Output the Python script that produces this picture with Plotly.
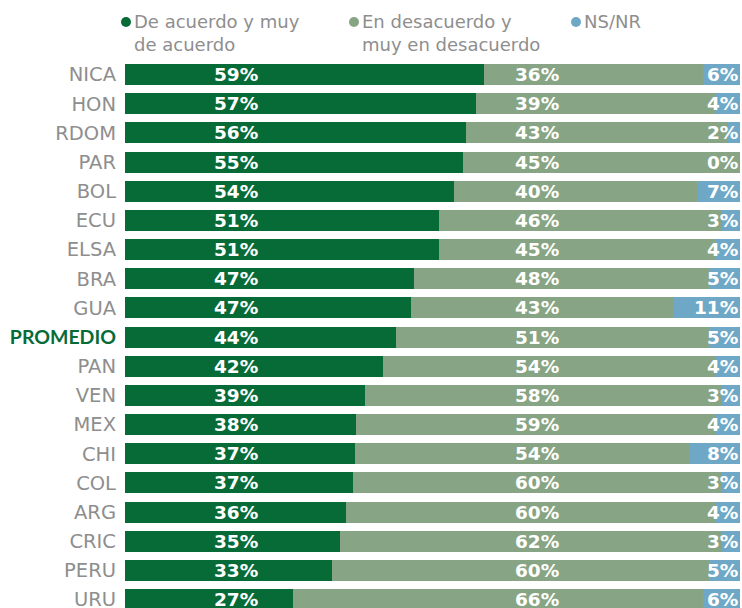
import plotly.graph_objects as go

countries = ["NICA", "HON", "RDOM", "PAR", "BOL", "ECU", "ELSA", "BRA", "GUA", "PROMEDIO",
             "PAN", "VEN", "MEX", "CHI", "COL", "ARG", "CRIC", "PERU", "URU"]
agree = [59, 57, 56, 55, 54, 51, 51, 47, 47, 44, 42, 39, 38, 37, 37, 36, 35, 33, 27]
disagree = [36, 39, 43, 45, 40, 46, 45, 48, 43, 51, 54, 58, 59, 54, 60, 60, 62, 60, 66]
nsnr = [6, 4, 2, 0, 7, 3, 4, 5, 11, 5, 4, 3, 4, 8, 3, 4, 3, 5, 6]
series_names = ["De acuerdo y muy<br>de acuerdo", "En desacuerdo y<br>muy en desacuerdo", "NS/NR"]

C_AGREE = "#076B38"
C_DIS = "#87A584"
C_NS = "#6FA8C7"
GRAY = "#8E8E8E"
FONT = "'DejaVu Sans', sans-serif"

W, H = 742, 608
L, R, T, B = 125, 2, 60, 0
PW, PH = W - L - R, H - T - B


def px(x):  # window x -> paper
    return (x - L) / PW


def py(y):  # window y -> paper
    return 1 - (y - T) / PH


ticktext = [f"<span style='font-family:Lato;font-weight:bold;font-size:19.5px;fill:{C_AGREE};color:{C_AGREE}'>{c}</span>"
            if c == "PROMEDIO" else c for c in countries]

fig = go.Figure()
for vals, col, name in zip([agree, disagree, nsnr], [C_AGREE, C_DIS, C_NS], series_names):
    fig.add_trace(go.Bar(y=countries, x=vals, orientation="h", marker=dict(color=col, line=dict(width=0)),
                         name=name, showlegend=False, hoverinfo="skip"))

annotations = []
lab_font = dict(color="white", size=18.5, family=FONT)
for c, a, d, n in zip(countries, agree, disagree, nsnr):
    annotations.append(dict(x=18.1, y=c, xref="x", yref="y", text=f"<b>{a}%</b>", showarrow=False,
                            xanchor="center", font=lab_font))
    annotations.append(dict(x=67.0, y=c, xref="x", yref="y", text=f"<b>{d}%</b>", showarrow=False,
                            xanchor="center", font=lab_font))
    annotations.append(dict(x=100, y=c, xref="x", yref="y", text=f"<b>{n}%</b>", showarrow=False,
                            xanchor="right", font=lab_font))

# manual legend
legend_x = [132, 360, 582]
legend_marker_x = [126, 354, 576]
shapes = []
for lx, mx, name, col in zip(legend_x, legend_marker_x, series_names, [C_AGREE, C_DIS, C_NS]):
    annotations.append(dict(x=px(lx), y=py(9), xref="paper", yref="paper", text=name,
                            showarrow=False, xanchor="left", yanchor="top", align="left",
                            font=dict(color=GRAY, size=18, family=FONT)))
    shapes.append(dict(type="circle", xref="paper", yref="paper",
                       x0=px(mx - 5), x1=px(mx + 5), y0=py(27), y1=py(17),
                       fillcolor=col, line=dict(width=0)))

fig.update_layout(
    barmode="stack",
    barnorm="percent",
    bargap=0.28,
    width=W, height=H,
    margin=dict(l=L, r=R, t=T, b=B, autoexpand=False),
    plot_bgcolor="white", paper_bgcolor="white",
    xaxis=dict(range=[0, 100], visible=False, fixedrange=True, automargin=False),
    yaxis=dict(type="category", range=[18.29, -0.5], tickmode="array", tickvals=countries, ticktext=ticktext,
               tickfont=dict(color=GRAY, size=19.5, family=FONT), showgrid=False, zeroline=False,
               showline=False, ticks="", ticklabelstandoff=8, automargin=False, fixedrange=True),
    annotations=annotations,
    shapes=shapes,
    showlegend=False,
)

fig.write_html("out.html", config={"displayModeBar": False},
               post_script="document.body.style.margin='0';document.body.style.overflow='hidden';")
